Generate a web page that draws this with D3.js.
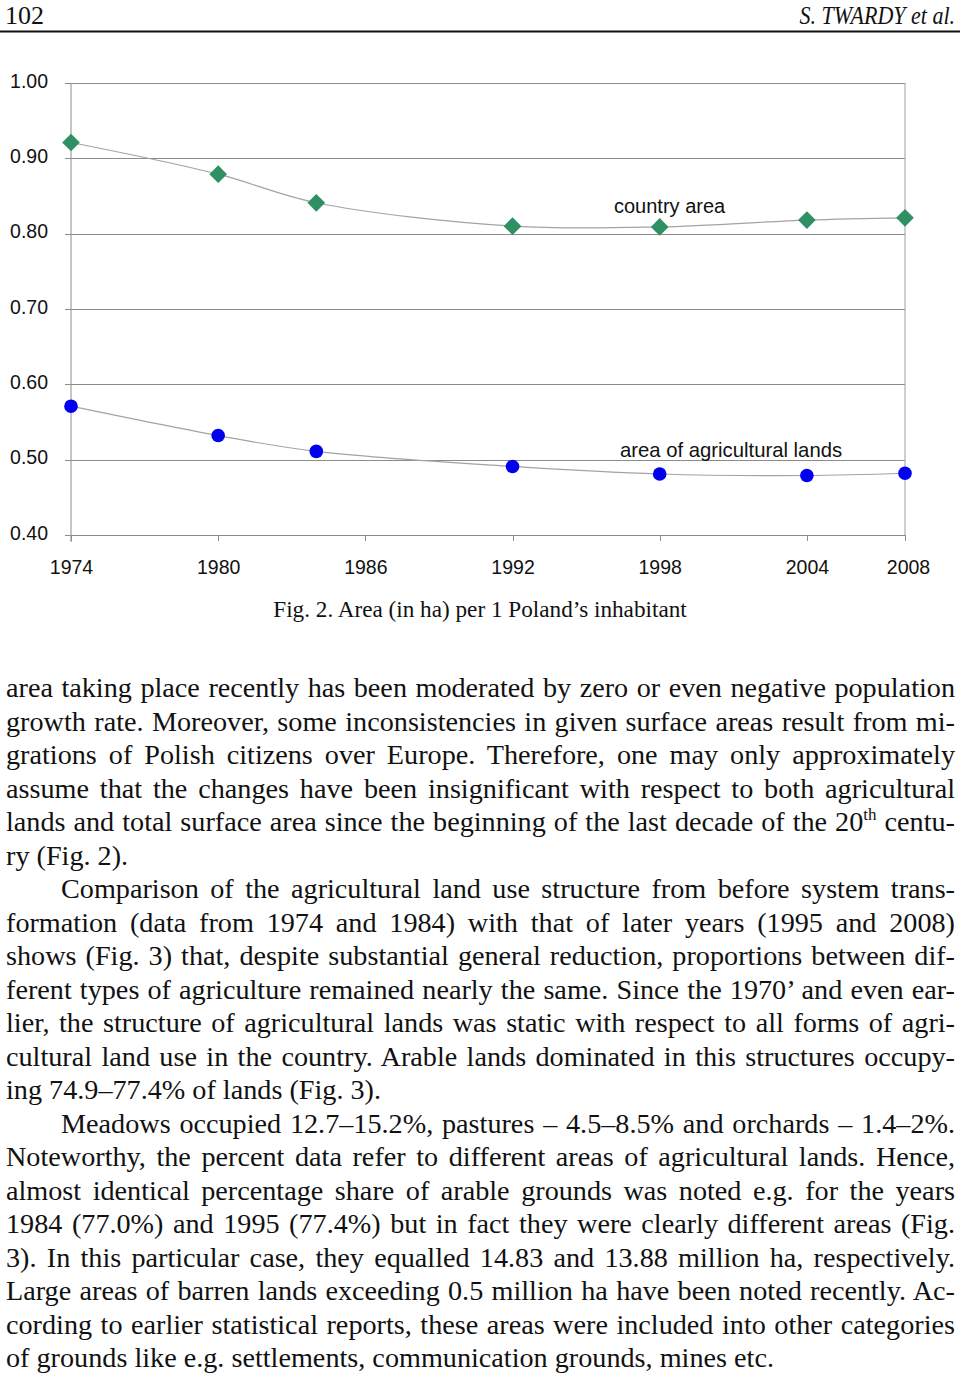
<!DOCTYPE html>
<html>
<head>
<meta charset="utf-8">
<script src="https://cdn.jsdelivr.net/npm/d3@7"></script>
<style>
  body { margin: 0; background: #fff; }
  .axis path, .axis line { stroke: #8c8c8c; shape-rendering: crispEdges; }
  .axis text { font-family: "Liberation Sans", Arial, sans-serif; font-size: 19.5px; fill: #111; }
  .serif { font-family: "Liberation Serif", "Times New Roman", serif; fill: #111; }
</style>
</head>
<body>
<div class="page"></div>
<script>
// Chart data (ha per inhabitant)
var years = [1974, 1980, 1984, 1992, 1998, 2004, 2008];
var countryArea = [0.921, 0.879, 0.841, 0.810, 0.809, 0.818, 0.821];
var agriArea = [0.571, 0.532, 0.511, 0.491, 0.481, 0.479, 0.482];
var yearTicks = [1974, 1980, 1986, 1992, 1998, 2004, 2008];
var valueTicks = [0.40, 0.50, 0.60, 0.70, 0.80, 0.90, 1.00];

// Body text, one entry per printed line
var bodyLines = [
  { t: "area taking place recently has been moderated by zero or even negative population" },
  { t: "growth rate. Moreover, some inconsistencies in given surface areas result from mi-" },
  { t: "grations of Polish citizens over Europe. Therefore, one may only approximately" },
  { t: "assume that the changes have been insignificant with respect to both agricultural" },
  { t: "lands and total surface area since the beginning of the last decade of the 20", sup: "th", after: " centu-" },
  { t: "ry (Fig. 2).", last: true },
  { t: "Comparison of the agricultural land use structure from before system trans-", indent: true },
  { t: "formation (data from 1974 and 1984) with that of later years (1995 and 2008)" },
  { t: "shows (Fig. 3) that, despite substantial general reduction, proportions between dif-" },
  { t: "ferent types of agriculture remained nearly the same. Since the 1970’ and even ear-" },
  { t: "lier, the structure of agricultural lands was static with respect to all forms of agri-" },
  { t: "cultural land use in the country. Arable lands dominated in this structures occupy-" },
  { t: "ing 74.9–77.4% of lands (Fig. 3).", last: true },
  { t: "Meadows occupied 12.7–15.2%, pastures – 4.5–8.5% and orchards – 1.4–2%.", indent: true },
  { t: "Noteworthy, the percent data refer to different areas of agricultural lands. Hence," },
  { t: "almost identical percentage share of arable grounds was noted e.g. for the years" },
  { t: "1984 (77.0%) and 1995 (77.4%) but in fact they were clearly different areas (Fig." },
  { t: "3). In this particular case, they equalled 14.83 and 13.88 million ha, respectively." },
  { t: "Large areas of barren lands exceeding 0.5 million ha have been noted recently. Ac-" },
  { t: "cording to earlier statistical reports, these areas were included into other categories" },
  { t: "of grounds like e.g. settlements, communication grounds, mines etc.", last: true }
];

var svgWidth = 960;
var svgHeight = 1376;

var svg = d3.select(".page")
  .append("svg")
  .attr("width", svgWidth)
  .attr("height", svgHeight);

// Running header
svg.append("text")
  .attr("class", "serif")
  .attr("x", 5)
  .attr("y", 24)
  .attr("font-size", 26)
  .text("102");

// author line is set in a narrow italic, so squeeze it horizontally
svg.append("g")
  .attr("transform", "translate(955,24) scale(0.88,1)")
  .append("text")
  .attr("class", "serif")
  .attr("font-size", 25)
  .attr("font-style", "italic")
  .attr("text-anchor", "end")
  .text("S. TWARDY et al.");

svg.append("line")
  .attr("x1", 0).attr("x2", 960)
  .attr("y1", 31.5).attr("y2", 31.5)
  .attr("stroke", "#111")
  .attr("stroke-width", 2);

// Chart area
var plot = { left: 71, right: 905, top: 83, bottom: 535 };

var x = d3.scaleLinear()
  .domain([1974, 2008])
  .range([plot.left, plot.right]);

var y = d3.scaleLinear()
  .domain([0.4, 1.0])
  .range([plot.bottom, plot.top]);

// Horizontal gridlines with the y axis
var leftAxis = d3.axisLeft(y)
  .tickValues(valueTicks)
  .tickFormat(d3.format(".2f"))
  .tickSize(-(plot.right - plot.left))
  .tickPadding(23);

var yAxisG = svg.append("g")
  .attr("class", "axis")
  .attr("transform", `translate(${plot.left},0)`)
  .call(leftAxis);
yAxisG.select(".domain").remove();
yAxisG.selectAll(".tick line")
  .attr("x1", -6)
  .attr("stroke", "#a0a0a0");
yAxisG.selectAll(".tick text").attr("dy", "0.22em");

// Left axis line and right frame
svg.append("line")
  .attr("x1", plot.left).attr("x2", plot.left)
  .attr("y1", plot.top).attr("y2", plot.bottom + 7)
  .attr("stroke", "#8c8c8c");
svg.append("line")
  .attr("x1", plot.right).attr("x2", plot.right)
  .attr("y1", plot.top).attr("y2", plot.bottom)
  .attr("stroke", "#a0a0a0");

var bottomAxis = d3.axisBottom(x)
  .tickValues(yearTicks)
  .tickFormat(d3.format("d"))
  .tickSizeOuter(0)
  .tickSize(6)
  .tickPadding(19);

var xAxisG = svg.append("g")
  .attr("class", "axis")
  .attr("transform", `translate(0,${plot.bottom})`)
  .call(bottomAxis);
xAxisG.select(".domain").attr("stroke", "#a0a0a0");
xAxisG.selectAll(".tick")
  .filter(d => d === 2008)
  .select("line").remove();
xAxisG.selectAll(".tick")
  .filter(d => d === 2008)
  .select("text").attr("dx", 3);

// Smoothed connecting lines
var line = d3.line()
  .x((d, i) => x(years[i]))
  .y(d => y(d))
  .curve(d3.curveCatmullRom.alpha(0.5));

[countryArea, agriArea].forEach(function(series) {
  svg.append("path")
    .datum(series)
    .attr("fill", "none")
    .attr("stroke", "#a3a3a3")
    .attr("stroke-width", 1.2)
    .attr("d", line);
});

// Diamond markers for country area
svg.selectAll(".diamond")
  .data(countryArea)
  .enter()
  .append("path")
  .attr("class", "diamond")
  .attr("d", d3.symbol().type(d3.symbolDiamond2).size(200))
  .attr("transform", (d, i) => `translate(${x(years[i])},${y(d)})`)
  .attr("fill", "#2e9063");

// Circle markers for agricultural lands
svg.selectAll(".dot")
  .data(agriArea)
  .enter()
  .append("circle")
  .attr("class", "dot")
  .attr("cx", (d, i) => x(years[i]))
  .attr("cy", d => y(d))
  .attr("r", 6.8)
  .attr("fill", "#0000ee");

// Series labels
svg.append("text")
  .attr("x", 614)
  .attr("y", 213)
  .attr("font-family", "Liberation Sans, Arial, sans-serif")
  .attr("font-size", 20)
  .attr("fill", "#111")
  .text("country area");

svg.append("text")
  .attr("x", 620)
  .attr("y", 457)
  .attr("font-family", "Liberation Sans, Arial, sans-serif")
  .attr("font-size", 20.3)
  .attr("fill", "#111")
  .text("area of agricultural lands");

// Caption
svg.append("text")
  .attr("class", "serif")
  .attr("x", 480)
  .attr("y", 617)
  .attr("font-size", 23.2)
  .attr("text-anchor", "middle")
  .text("Fig. 2. Area (in ha) per 1 Poland’s inhabitant");

// Justified body text: stretch the spaces between words
var textLeft = 6, textRight = 955, indent = 55, firstBase = 697, lineStep = 33.5;

bodyLines.forEach(function(l, i) {
  var x0 = textLeft + (l.indent ? indent : 0);
  var t = svg.append("text")
    .attr("class", "serif")
    .attr("x", x0)
    .attr("y", firstBase + i * lineStep)
    .attr("font-size", 28.2);
  t.append("tspan").text(l.t);
  if (l.sup) {
    t.append("tspan")
      .attr("font-size", 17)
      .attr("dy", -11)
      .text(l.sup);
    t.append("tspan")
      .attr("dy", 11)
      .text(l.after);
  }
  if (!l.last) {
    var full = l.t + (l.sup || "") + (l.after || "");
    var spaces = full.split(" ").length - 1;
    var natural = t.node().getComputedTextLength();
    t.attr("word-spacing", ((textRight - x0) - natural) / spaces);
  }
});
</script>
</body>
</html>
